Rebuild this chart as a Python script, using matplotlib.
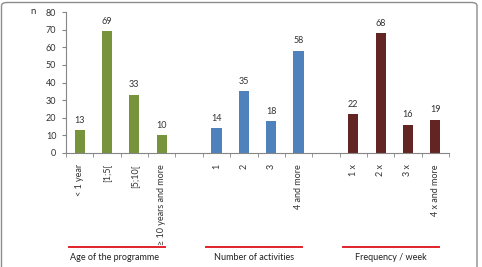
import numpy as np
import matplotlib.pyplot as plt
from matplotlib.patches import FancyBboxPatch

# Data
age_labels = ["< 1 year", "[1;5[", "[5;10[", "\u2265 10 years and more"]
age_values = [13, 69, 33, 10]
act_labels = ["1", "2", "3", "4 and more"]
act_values = [14, 35, 18, 58]
freq_labels = ["1 x", "2 x", "3 x", "4 x and more"]
freq_values = [22, 68, 16, 19]
group_titles = ["Age of the programme", "Number of activities", "Frequency / week"]

GREEN = "#77933C"
BLUE = "#4F81BD"
DARKRED = "#632523"
AXIS_COL = "#868686"

plt.rcParams['font.family'] = ['Lato', 'DejaVu Sans']

W, H = 482, 267
fig = plt.figure(figsize=(W / 100, H / 100), dpi=100)

# frame around the figure (rounded top corners, runs off the bottom)
frame = FancyBboxPatch((1.5 / W, -0.3), (477 - 1.5) / W, 1.3 - 2.5 / H,
                       boxstyle="round,pad=0,rounding_size=0.012",
                       transform=fig.transFigure, fill=False,
                       edgecolor="#8c8c8c", linewidth=1.0)
fig.patches.append(frame)

ax = fig.add_axes([66 / W, (H - 153) / H, 383 / W, 141 / H])

groups = [(0, age_labels, age_values, GREEN),
          (5, act_labels, act_values, BLUE),
          (10, freq_labels, freq_values, DARKRED)]

positions, labels = [], []
for start, labs, vals, col in groups:
    x = np.arange(start, start + len(vals))
    ax.bar(x, vals, width=0.37, color=col)
    for xi, v in zip(x, vals):
        ax.annotate(str(v), (xi, v), xytext=(0, 4), textcoords="offset points",
                    ha="center", va="bottom", fontsize=6.5, color="#333333")
    positions.extend(x)
    labels.extend(labs)

ax.set_xlim(-0.5, 13.5)
ax.set_ylim(0, 80)
ax.set_yticks(np.arange(0, 81, 10))
ax.tick_params(axis="y", labelsize=6.5, length=3, color=AXIS_COL, pad=4,
               labelcolor="#333333")
ax.set_xticks(positions)
ax.set_xticklabels(labels, rotation=90, fontsize=6.5, color="#333333")
ax.tick_params(axis="x", length=0, pad=8)
ax.set_xticks(np.arange(-0.5, 14, 1), minor=True)
ax.tick_params(axis="x", which="minor", length=3, color=AXIS_COL)

for s in ["top", "right"]:
    ax.spines[s].set_visible(False)
for s in ["left", "bottom"]:
    ax.spines[s].set_color(AXIS_COL)
    ax.spines[s].set_linewidth(0.8)

fig.text(33 / W, 1 - 11 / H, "n", fontsize=7, ha="center", va="center",
         color="#333333")

# group underlines and titles
line_spans = [(69, 165), (206, 302), (343, 439)]
title_x = [115, 254, 391]
for (x0, x1), tx, title in zip(line_spans, title_x, group_titles):
    fig.add_artist(plt.Line2D([x0 / W, x1 / W], [1 - 247 / H] * 2,
                              color="#E2232A", linewidth=1.4))
    fig.text(tx / W, 1 - 258 / H, title, fontsize=6.5, ha="center",
             va="center", color="#222222")

fig.savefig("out.png", dpi=100)
